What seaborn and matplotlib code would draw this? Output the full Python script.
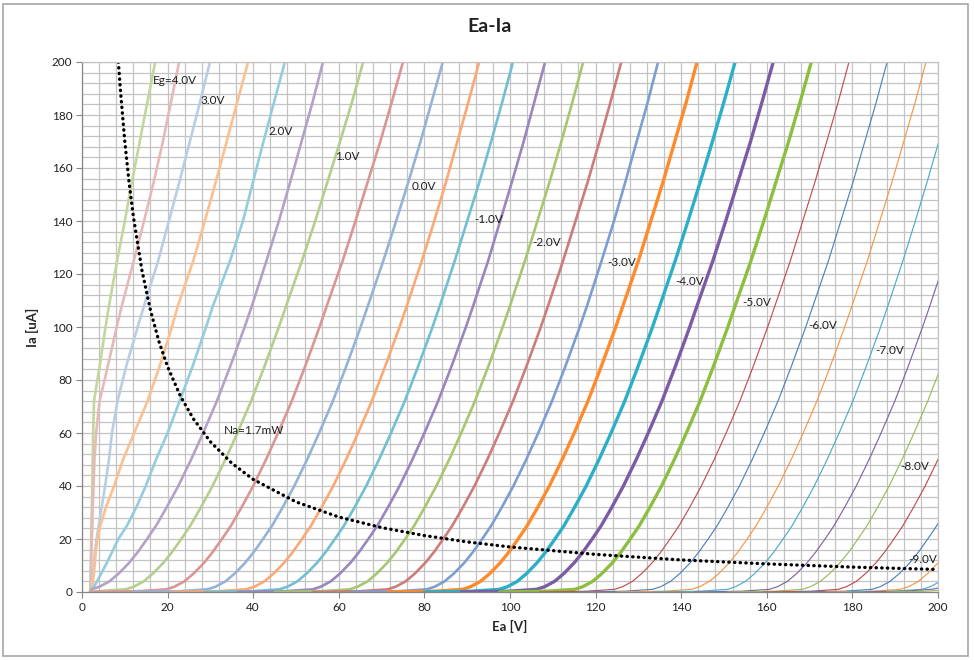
import matplotlib
matplotlib.use("Agg")
import matplotlib.pyplot as plt
import pandas as pd
import seaborn as sns
from matplotlib.patches import Rectangle

# ---------------- data ----------------
GRID_VOLTAGES = [4.0, 3.5, 3.0, 2.5, 2.0, 1.5, 1.0, 0.5, 0.0, -0.5, -1.0, -1.5,
                 -2.0, -2.5, -3.0, -3.5, -4.0, -4.5, -5.0, -5.5, -6.0, -6.5,
                 -7.0, -7.5, -8.0, -8.5, -9.0, -9.5, -10.0, -10.5, -11.0]

# plate current levels (uA) at which the plate voltage of each curve was read
IA_LEVELS = [0, 0.3, 1, 2, 4, 7, 11, 15, 20, 25, 32, 40, 50, 60, 72, 85, 100,
             108, 125, 140, 155, 170, 185, 200]

# plate voltage (V) of each curve at the current levels above
EA_TABLE = [
    [1.9, 1.9, 1.9, 1.95, 2.0, 2.0, 2.05, 2.1, 2.15, 2.2, 2.3, 2.4, 2.5, 2.6, 2.8, 4.1, 5.5, 6.3, 8.2, 10.0, 11.7, 13.5, 15.3, 17.1],
    [1.9, 1.9, 2.0, 2.0, 2.05, 2.1, 2.15, 2.2, 2.3, 2.4, 2.5, 2.7, 2.9, 3.3, 4.1, 6.0, 8.1, 9.3, 12.1, 14.5, 16.8, 18.9, 20.8, 22.7],
    [1.9, 2.0, 2.1, 2.2, 2.4, 2.6, 2.8, 3.0, 3.4, 3.9, 4.6, 5.4, 6.3, 7.0, 8.3, 10.3, 13.0, 14.5, 17.8, 20.3, 22.8, 25.2, 27.6, 29.9],
    [1.9, 2.0, 2.2, 2.35, 2.55, 2.8, 3.0, 3.2, 3.6, 4.3, 5.6, 7.5, 9.6, 12.2, 15.3, 18.1, 21.0, 22.4, 26.0, 28.7, 31.3, 33.8, 36.3, 38.8],
    [1.9, 2.1, 2.4, 2.8, 3.5, 4.5, 5.8, 7.0, 8.5, 10.5, 12.7, 14.9, 17.3, 20.0, 22.8, 25.8, 29.0, 30.6, 34.6, 37.6, 40.0, 42.4, 44.9, 47.4],
    [1.9, 1.95, 2.2, 4.1, 6.4, 8.6, 11.0, 13.0, 15.2, 17.3, 19.8, 22.5, 25.5, 28.3, 31.5, 34.6, 38.0, 39.7, 43.1, 46.0, 48.7, 51.3, 53.9, 56.3],
    [1.9, 3.7, 10.2, 12.1, 14.4, 16.6, 19.0, 21.0, 23.2, 25.3, 27.8, 30.5, 33.5, 36.3, 39.5, 42.6, 46.0, 47.7, 51.4, 54.5, 57.4, 60.3, 63.1, 65.7],
    [2.2, 13.2, 19.7, 21.6, 23.9, 26.1, 28.5, 30.5, 32.7, 34.8, 37.3, 40.0, 43.0, 45.8, 49.0, 52.1, 55.5, 57.2, 60.9, 63.9, 66.8, 69.7, 72.4, 75.0],
    [11.8, 22.8, 29.3, 31.2, 33.5, 35.7, 38.1, 40.1, 42.3, 44.4, 46.9, 49.6, 52.6, 55.4, 58.6, 61.7, 65.1, 66.8, 70.4, 73.4, 76.3, 79.1, 81.7, 84.3],
    [20.9, 31.9, 38.4, 40.3, 42.6, 44.8, 47.2, 49.2, 51.4, 53.5, 56.0, 58.7, 61.7, 64.5, 67.7, 70.8, 74.2, 75.9, 79.4, 82.3, 85.1, 87.7, 90.3, 92.8],
    [28.6, 39.6, 46.1, 48.0, 50.3, 52.5, 54.9, 56.9, 59.1, 61.2, 63.7, 66.4, 69.4, 72.2, 75.4, 78.5, 81.9, 83.6, 87.1, 90.0, 92.9, 95.6, 98.2, 100.7],
    [36.4, 47.4, 53.9, 55.8, 58.1, 60.3, 62.7, 64.7, 66.9, 69.0, 71.5, 74.2, 77.2, 80.0, 83.2, 86.3, 89.7, 91.4, 94.9, 97.7, 100.5, 103.2, 105.7, 108.2],
    [45.0, 56.0, 62.5, 64.4, 66.7, 68.9, 71.3, 73.3, 75.5, 77.6, 80.1, 82.8, 85.8, 88.6, 91.8, 94.9, 98.3, 100.0, 103.5, 106.4, 109.3, 112.0, 114.6, 117.1],
    [53.9, 64.9, 71.4, 73.3, 75.6, 77.8, 80.2, 82.2, 84.4, 86.5, 89.0, 91.7, 94.7, 97.5, 100.7, 103.8, 107.2, 108.9, 112.4, 115.3, 118.2, 120.9, 123.5, 126.0],
    [63.0, 74.0, 80.5, 82.4, 84.7, 86.9, 89.3, 91.3, 93.5, 95.6, 98.1, 100.8, 103.8, 106.6, 109.8, 112.9, 116.3, 118.0, 121.4, 124.3, 127.0, 129.6, 132.2, 134.6],
    [71.4, 82.4, 88.9, 90.8, 93.1, 95.3, 97.7, 99.7, 101.9, 104.0, 106.5, 109.2, 112.2, 115.0, 118.2, 121.3, 124.7, 126.4, 130.0, 132.9, 135.8, 138.5, 141.2, 143.7],
    [80.0, 91.0, 97.5, 99.4, 101.7, 103.9, 106.3, 108.3, 110.5, 112.6, 115.1, 117.8, 120.8, 123.6, 126.8, 129.9, 133.3, 135.0, 138.6, 141.6, 144.5, 147.3, 150.0, 152.6],
    [88.7, 99.7, 106.2, 108.1, 110.4, 112.6, 115.0, 117.0, 119.2, 121.3, 123.8, 126.5, 129.5, 132.3, 135.5, 138.6, 142.0, 143.7, 147.4, 150.4, 153.3, 156.2, 158.9, 161.5],
    [97.6, 108.6, 115.1, 117.0, 119.3, 121.5, 123.9, 125.9, 128.1, 130.2, 132.7, 135.4, 138.4, 141.2, 144.4, 147.5, 150.9, 152.6, 156.3, 159.3, 162.2, 165.1, 167.8, 170.4],
    [106.9, 117.9, 124.4, 126.3, 128.6, 130.8, 133.2, 135.2, 137.4, 139.5, 142.0, 144.7, 147.7, 150.5, 153.7, 156.8, 160.2, 161.9, 165.5, 168.4, 171.3, 174.0, 176.7, 179.2],
    [115.8, 126.8, 133.3, 135.2, 137.5, 139.7, 142.1, 144.1, 146.3, 148.4, 150.9, 153.6, 156.6, 159.4, 162.6, 165.7, 169.1, 170.8, 174.4, 177.3, 180.2, 182.9, 185.6, 188.1],
    [124.9, 135.9, 142.4, 144.3, 146.6, 148.8, 151.2, 153.2, 155.4, 157.5, 160.0, 162.7, 165.7, 168.5, 171.7, 174.8, 178.2, 179.9, 183.5, 186.4, 189.3, 192.0, 194.7, 197.2],
    [133.3, 144.3, 150.8, 152.7, 155.0, 157.2, 159.6, 161.6, 163.8, 165.9, 168.4, 171.1, 174.1, 176.9, 180.1, 183.2, 186.6, 188.3, 191.8, 194.7, 197.5, 200.2, 202.8, 205.3],
    [143.1, 154.1, 160.6, 162.5, 164.8, 167.0, 169.4, 171.4, 173.6, 175.7, 178.2, 180.9, 183.9, 186.7, 189.9, 193.0, 196.4, 198.1, 201.6, 204.5, 207.3, 210.0, 212.6, 215.1],
    [150.8, 161.8, 168.3, 170.2, 172.5, 174.7, 177.1, 179.1, 181.3, 183.4, 185.9, 188.6, 191.6, 194.4, 197.6, 200.7, 204.1, 205.8, 209.3, 212.2, 215.0, 217.7, 220.3, 222.8],
    [159.2, 170.2, 176.7, 178.6, 180.9, 183.1, 185.5, 187.5, 189.7, 191.8, 194.3, 197.0, 200.0, 202.8, 206.0, 209.1, 212.5, 214.2, 217.7, 220.6, 223.4, 226.1, 228.7, 231.2],
    [167.1, 178.1, 184.6, 186.5, 188.8, 191.0, 193.4, 195.4, 197.6, 199.7, 202.2, 204.9, 207.9, 210.7, 213.9, 217.0, 220.4, 222.1, 225.6, 228.5, 231.3, 234.0, 236.6, 239.1],
    [173.7, 184.7, 191.2, 193.1, 195.4, 197.6, 200.0, 202.0, 204.2, 206.3, 208.8, 211.5, 214.5, 217.3, 220.5, 223.6, 227.0, 228.7, 232.2, 235.1, 237.9, 240.6, 243.2, 245.7],
    [178.8, 189.8, 196.3, 198.2, 200.5, 202.7, 205.1, 207.1, 209.3, 211.4, 213.9, 216.6, 219.6, 222.4, 225.6, 228.7, 232.1, 233.8, 237.3, 240.2, 243.0, 245.7, 248.3, 250.8],
    [183.0, 192.0, 198.5, 201.5, 204.5, 206.5, 209.0, 211.0, 213.5, 215.5, 218.0, 220.5, 223.5, 226.5, 229.5, 232.5, 236.0, 238.0, 241.5, 244.5, 247.2, 250.0, 252.5, 255.0],
    [188.0, 197.0, 204.0, 206.5, 209.5, 211.5, 214.0, 216.0, 218.5, 220.5, 223.0, 225.5, 228.5, 231.5, 234.5, 237.5, 241.0, 243.0, 246.5, 249.5, 252.2, 255.0, 257.5, 260.0],
]

# constant plate dissipation line Na = 1.7 mW
POWER_EA = [8.5, 9, 10, 11, 12, 14, 16, 18, 20, 23, 26, 30, 35, 40, 50, 60,
            70, 80, 90, 100, 120, 140, 160, 180, 200]
POWER_IA = [200, 188.9, 170, 154.5, 141.7, 121.4, 106.3, 94.4, 85, 73.9, 65.4,
            56.7, 48.6, 42.5, 34, 28.3, 24.3, 21.3, 18.9, 17, 14.2, 12.1, 10.6,
            9.4, 8.5]

LABEL_TEXTS = ["Eg=4.0V", "3.0V", "2.0V", "1.0V", "0.0V", "-1.0V", "-2.0V",
               "-3.0V", "-4.0V", "-5.0V", "-6.0V", "-7.0V", "-8.0V", "-9.0V",
               "Na=1.7mW"]
LABEL_EA = [16.6, 27.6, 43.5, 59.1, 76.9, 91.6, 105.1, 122.7, 138.6, 154.2,
            169.6, 185.3, 191.1, 193.0, 33.2]
LABEL_IA = [193.2, 185.3, 173.6, 164.5, 153.2, 140.4, 131.7, 124.5, 117.0,
            109.4, 100.4, 91.3, 47.2, 12.1, 61.1]

TICKS = [0, 20, 40, 60, 80, 100, 120, 140, 160, 180, 200]
TICK_LABELS = [str(t) for t in TICKS]

# ---------------- styles ----------------
COLORS = ["#C3D69B", "#E6B9B8", "#B9CDE5", "#FAC090", "#93CDDD", "#B3A2C7",
          "#B5CE8C", "#D99694", "#95B3D7", "#FAA874", "#72BFD3", "#9A86BE",
          "#A6C76F", "#CC7C7A", "#7C9ED3", "#FF8A2B", "#2BAFC8", "#7B5BA6",
          "#8CBE3F", "#C0504D", "#4F81BD", "#F79646", "#4BACC6", "#8064A2",
          "#9BBB59", "#C0504D", "#4F81BD", "#F79646", "#4BACC6", "#8064A2",
          "#9BBB59"]
WIDTHS = [1.9] * 15 + [2.4] * 4 + [0.85] * 12

sns.set_theme(style="white")
plt.rcParams["font.family"] = ["Lato", "DejaVu Sans"]

rows = []
for eg, eas in zip(GRID_VOLTAGES, EA_TABLE):
    name = f"{eg:.1f}V"
    for ea, ia in zip(eas, IA_LEVELS):
        rows.append({"curve": name, "Ea": ea, "Ia": ia})
df = pd.DataFrame(rows)
names = [f"{eg:.1f}V" for eg in GRID_VOLTAGES]
palette = dict(zip(names, COLORS))
sizes = dict(zip(names, WIDTHS))

fig = plt.figure(figsize=(9.74, 6.60), dpi=100)
ax = fig.add_axes([82 / 974, 1 - 592 / 660, (938 - 82) / 974, (592 - 62) / 660])

sns.lineplot(data=df, x="Ea", y="Ia", hue="curve", size="curve",
             palette=palette, sizes=sizes, hue_order=names, size_order=names,
             sort=False, estimator=None, legend=False, ax=ax)

sns.lineplot(x=POWER_EA, y=POWER_IA, color="black", linewidth=2.4,
             linestyle=(0, (0.1, 1.6)), dash_capstyle="round",
             sort=False, estimator=None, ax=ax)

for t, x, y in zip(LABEL_TEXTS, LABEL_EA, LABEL_IA):
    ax.text(x, y, t, fontsize=8.5, ha="left", va="center", color="#202020")

ax.set_xlim(0, 200)
ax.set_ylim(0, 200)
ax.set_xticks(TICKS)
ax.set_xticklabels(TICK_LABELS)
ax.set_yticks(TICKS)
ax.set_yticklabels(TICK_LABELS)
ax.set_xticks(range(0, 201, 4), minor=True)
ax.set_yticks(range(0, 201, 4), minor=True)
ax.grid(True, which="both", color="#C3C3C3", linewidth=0.9)
ax.set_axisbelow(True)
ax.tick_params(axis="both", which="major", direction="out", length=4,
               width=0.8, color="#868686", labelsize=8.5, labelcolor="#202020",
               pad=3, bottom=True, left=True)
ax.tick_params(axis="both", which="minor", length=0)
for side in ["left", "bottom"]:
    ax.spines[side].set_color("#868686")
    ax.spines[side].set_linewidth(0.9)
for side in ["top", "right"]:
    ax.spines[side].set_color("#C3C3C3")
    ax.spines[side].set_linewidth(0.9)

ax.set_xlabel("Ea [V]", fontsize=9.5, fontweight="bold", labelpad=5)
ax.set_ylabel("Ia [uA]", fontsize=9.5, fontweight="bold", labelpad=9)

fig.text(0.503, 1 - 27 / 660, "Ea-Ia", ha="center", va="center",
         fontsize=14, fontweight="bold", color="#202020")

fig.patches.append(Rectangle((3 / 974, 4 / 660), 965 / 974, 652 / 660,
                             transform=fig.transFigure, fill=False,
                             edgecolor="#A6A6A6", linewidth=1.2))

fig.savefig("out.png", dpi=100)
